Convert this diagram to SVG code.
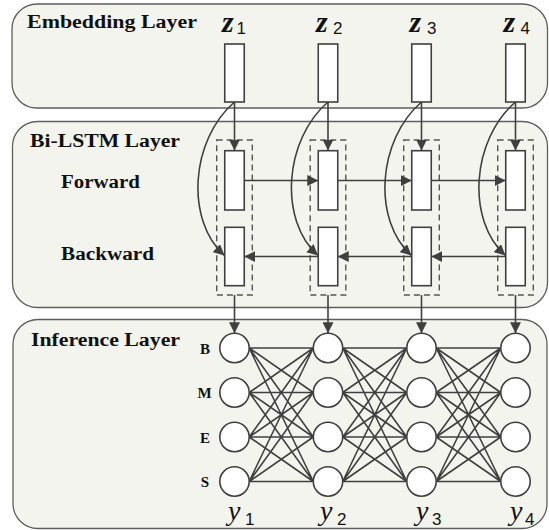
<svg xmlns="http://www.w3.org/2000/svg" width="549" height="530" viewBox="0 0 549 530">
<defs>
<style>
.panel{fill:#f4f4ee;stroke:#5e5e5e;stroke-width:1.3}
.title{font-family:"Liberation Serif","Times New Roman",serif;font-weight:bold;font-size:18px;fill:#111}
.lbl{font-family:"Liberation Serif","Times New Roman",serif;font-weight:bold;font-size:15px;fill:#111;text-anchor:middle}
.cell{fill:#fff;stroke:#404040;stroke-width:1.6}
.dash{fill:none;stroke:#555;stroke-width:1.4;stroke-dasharray:6,4}
.node{fill:#fff;stroke:#404040;stroke-width:1.6}
.conn{fill:none;stroke:#404040;stroke-width:1.6}
.arr{marker-end:url(#ah)}
.z{font-family:"Liberation Serif","Times New Roman",serif;font-weight:bold;font-style:italic;font-size:30px;fill:#111}
.y{font-family:"Liberation Serif","Times New Roman",serif;font-style:italic;font-size:28px;fill:#111}
.sub{font-family:"Liberation Sans",Arial,sans-serif;font-size:17px;fill:#111}
</style>
<marker id="ah" viewBox="0 0 10 10" refX="10" refY="5" markerUnits="userSpaceOnUse" markerWidth="11" markerHeight="11" orient="auto">
<path d="M0,0 L10,5 L0,10 z" fill="#404040"/>
</marker>
</defs>

<g id="embedding-layer">
<rect class="panel" x="12" y="4" width="535.5" height="104" rx="25" ry="25"/>
<text class="title" x="27" y="28" textLength="170" lengthAdjust="spacingAndGlyphs">Embedding Layer</text>
</g>
<g id="bilstm-layer">
<rect class="panel" x="12.5" y="121.5" width="535" height="186" rx="25" ry="25"/>
<text class="title" x="30" y="146.5" textLength="150" lengthAdjust="spacingAndGlyphs">Bi-LSTM Layer</text>
<text class="title" x="61" y="187.5" textLength="79" lengthAdjust="spacingAndGlyphs">Forward</text>
<text class="title" x="61" y="259.5" textLength="93" lengthAdjust="spacingAndGlyphs">Backward</text>
</g>
<g id="inference-layer">
<rect class="panel" x="13" y="319.5" width="534" height="209" rx="25" ry="25"/>
<text class="title" x="31" y="346" textLength="149" lengthAdjust="spacingAndGlyphs">Inference Layer</text>
<text class="lbl" x="205" y="353.5">B</text>
<text class="lbl" x="204.5" y="398">M</text>
<text class="lbl" x="205" y="443">E</text>
<text class="lbl" x="205" y="487">S</text>
</g>

<g id="z1"><text class="z" x="222" y="32">z</text><text class="sub" x="236.5" y="34">1</text><rect class="cell" x="224.75" y="44" width="19.5" height="58"/></g>
<g id="z2"><text class="z" x="316" y="32">z</text><text class="sub" x="333" y="34">2</text><rect class="cell" x="318.25" y="44" width="19.5" height="58"/></g>
<g id="z3"><text class="z" x="409.5" y="32">z</text><text class="sub" x="427" y="34">3</text><rect class="cell" x="411.75" y="44" width="19.5" height="58"/></g>
<g id="z4"><text class="z" x="503.5" y="32">z</text><text class="sub" x="520.5" y="34">4</text><rect class="cell" x="505.75" y="44" width="19.5" height="58"/></g>

<g id="lstm1"><rect class="dash" x="216.7" y="140" width="35.6" height="155"/><rect class="cell" x="224.75" y="150.7" width="19.5" height="59.3"/><rect class="cell" x="224.75" y="227.3" width="19.5" height="58.4"/></g>
<g id="lstm2"><rect class="dash" x="310.2" y="140" width="35.6" height="155"/><rect class="cell" x="318.25" y="150.7" width="19.5" height="59.3"/><rect class="cell" x="318.25" y="227.3" width="19.5" height="58.4"/></g>
<g id="lstm3"><rect class="dash" x="403.7" y="140" width="35.6" height="155"/><rect class="cell" x="411.75" y="150.7" width="19.5" height="59.3"/><rect class="cell" x="411.75" y="227.3" width="19.5" height="58.4"/></g>
<g id="lstm4"><rect class="dash" x="497.7" y="140" width="35.6" height="155"/><rect class="cell" x="505.75" y="150.7" width="19.5" height="59.3"/><rect class="cell" x="505.75" y="227.3" width="19.5" height="58.4"/></g>

<g id="connectors">
<path class="conn arr" d="M234.5,102 V150.5"/>
<path class="conn arr" d="M328,102 V150.5"/>
<path class="conn arr" d="M421.5,102 V150.5"/>
<path class="conn arr" d="M515.5,102 V150.5"/>
<path class="conn arr" d="M234.5,102 C190.5,140 185,220 224.5,255.5"/>
<path class="conn arr" d="M328,102 C284,140 278.5,220 318,255.5"/>
<path class="conn arr" d="M421.5,102 C377.5,140 372,220 411.5,255.5"/>
<path class="conn arr" d="M515.5,102 C471.5,140 466,220 505.5,255.5"/>
<path class="conn arr" d="M244.25,180.5 H318.25"/>
<path class="conn arr" d="M337.75,180.5 H411.75"/>
<path class="conn arr" d="M431.25,180.5 H505.75"/>
<path class="conn arr" d="M318.25,256.5 H244.25"/>
<path class="conn arr" d="M411.75,256.5 H337.75"/>
<path class="conn arr" d="M505.75,256.5 H431.25"/>
<path class="conn arr" d="M234.5,295 V333.3"/>
<path class="conn arr" d="M328,295 V333.3"/>
<path class="conn arr" d="M421.5,295 V333.3"/>
<path class="conn arr" d="M515.5,295 V333.3"/>
<g class="conn">
<path d="M249.2,348 L313.3,348 M249.2,348 L313.3,392.5 M249.2,348 L313.3,437 M249.2,348 L313.3,481.5
M249.2,392.5 L313.3,348 M249.2,392.5 L313.3,392.5 M249.2,392.5 L313.3,437 M249.2,392.5 L313.3,481.5
M249.2,437 L313.3,348 M249.2,437 L313.3,392.5 M249.2,437 L313.3,437 M249.2,437 L313.3,481.5
M249.2,481.5 L313.3,348 M249.2,481.5 L313.3,392.5 M249.2,481.5 L313.3,437 M249.2,481.5 L313.3,481.5"/>
<path d="M342.7,348 L406.8,348 M342.7,348 L406.8,392.5 M342.7,348 L406.8,437 M342.7,348 L406.8,481.5
M342.7,392.5 L406.8,348 M342.7,392.5 L406.8,392.5 M342.7,392.5 L406.8,437 M342.7,392.5 L406.8,481.5
M342.7,437 L406.8,348 M342.7,437 L406.8,392.5 M342.7,437 L406.8,437 M342.7,437 L406.8,481.5
M342.7,481.5 L406.8,348 M342.7,481.5 L406.8,392.5 M342.7,481.5 L406.8,437 M342.7,481.5 L406.8,481.5"/>
<path d="M436.2,348 L500.8,348 M436.2,348 L500.8,392.5 M436.2,348 L500.8,437 M436.2,348 L500.8,481.5
M436.2,392.5 L500.8,348 M436.2,392.5 L500.8,392.5 M436.2,392.5 L500.8,437 M436.2,392.5 L500.8,481.5
M436.2,437 L500.8,348 M436.2,437 L500.8,392.5 M436.2,437 L500.8,437 M436.2,437 L500.8,481.5
M436.2,481.5 L500.8,348 M436.2,481.5 L500.8,392.5 M436.2,481.5 L500.8,437 M436.2,481.5 L500.8,481.5"/>
</g>
</g>

<g id="y1"><circle class="node" cx="234.5" cy="348" r="14.7"/><circle class="node" cx="234.5" cy="392.5" r="14.7"/><circle class="node" cx="234.5" cy="437" r="14.7"/><circle class="node" cx="234.5" cy="481.5" r="14.7"/><text class="y" x="228" y="520">y</text><text class="sub" x="245" y="525">1</text></g>
<g id="y2"><circle class="node" cx="328" cy="348" r="14.7"/><circle class="node" cx="328" cy="392.5" r="14.7"/><circle class="node" cx="328" cy="437" r="14.7"/><circle class="node" cx="328" cy="481.5" r="14.7"/><text class="y" x="320" y="520">y</text><text class="sub" x="337" y="525">2</text></g>
<g id="y3"><circle class="node" cx="421.5" cy="348" r="14.7"/><circle class="node" cx="421.5" cy="392.5" r="14.7"/><circle class="node" cx="421.5" cy="437" r="14.7"/><circle class="node" cx="421.5" cy="481.5" r="14.7"/><text class="y" x="416" y="520">y</text><text class="sub" x="432" y="525">3</text></g>
<g id="y4"><circle class="node" cx="515.5" cy="348" r="14.7"/><circle class="node" cx="515.5" cy="392.5" r="14.7"/><circle class="node" cx="515.5" cy="437" r="14.7"/><circle class="node" cx="515.5" cy="481.5" r="14.7"/><text class="y" x="510" y="520">y</text><text class="sub" x="525" y="525">4</text></g>
</svg>
